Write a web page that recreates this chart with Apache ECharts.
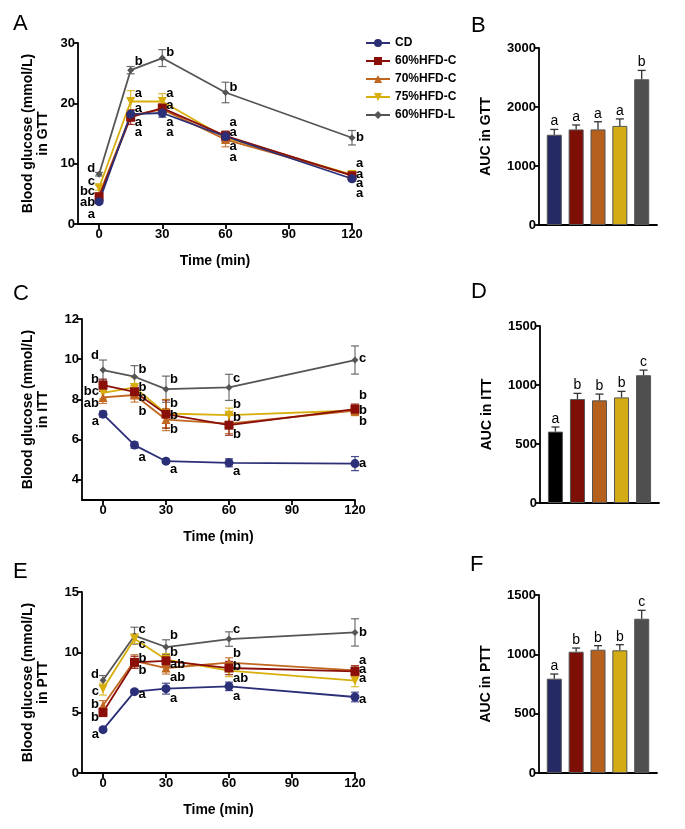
<!DOCTYPE html>
<html><head><meta charset="utf-8">
<script src="https://cdn.jsdelivr.net/npm/echarts@6/dist/echarts.min.js"></script>
<style>html,body{margin:0;padding:0;background:#fff}#c{width:685px;height:829px}</style>
</head><body><div id="c"></div>
<script>
// ---------- DATA ----------
const groups = ['CD', '60%HFD-C', '70%HFD-C', '75%HFD-C', '60%HFD-L'];
const times = [0, 15, 30, 60, 120];
const timeTicks = [0, 30, 60, 90, 120];
const ittTicks = [4, 6, 8, 10, 12];

// GTT (mmol/L), rows follow groups
const gttMeans = [
  [3.7, 18.2, 18.4, 14.5, 7.5],
  [4.5, 17.7, 19.2, 14.6, 8.0],
  [4.8, 18.0, 19.0, 14.0, 8.1],
  [6.0, 20.3, 20.3, 14.3, 8.2],
  [8.25, 25.5, 27.5, 21.8, 14.3]
];
const gttSem = [
  [0.3, 0.6, 0.7, 0.8, 0.4],
  [0.4, 1.2, 0.7, 0.8, 0.5],
  [0.4, 0.9, 0.8, 1.2, 0.5],
  [0.4, 1.8, 1.3, 0.8, 0.5],
  [0.3, 0.6, 1.4, 1.7, 1.2]
];
const gttLetters = [
  [0, 9.23, 'd'], [0, 7.1, 'c'], [0, 5.47, 'bc'], [0, 3.53, 'ab'], [0, 1.6, 'a'],
  [15, 27.0, 'b'], [15, 21.7, 'a'], [15, 19.2, 'a'], [15, 16.9, 'a'], [15, 15.1, 'a'],
  [30, 28.4, 'b'], [30, 21.7, 'a'], [30, 19.6, 'a'], [30, 16.9, 'a'], [30, 15.1, 'a'],
  [60, 22.7, 'b'], [60, 16.9, 'a'], [60, 15.1, 'a'], [60, 12.9, 'a'], [60, 11.1, 'a'],
  [120, 14.3, 'b'], [120, 10.0, 'a'], [120, 8.3, 'a'], [120, 6.8, 'a'], [120, 5.1, 'a']
];
const gttAuc = [1530, 1620, 1620, 1680, 2470];
const gttAucSem = [90, 75, 130, 118, 150];
const gttAucLetters = ['a', 'a', 'a', 'a', 'b'];

// ITT
const ittMeans = [
  [7.27, 5.73, 4.93, 4.85, 4.81],
  [8.71, 8.38, 7.27, 6.72, 7.52],
  [8.1, 8.22, 7.0, 6.8, 7.45],
  [8.33, 8.6, 7.3, 7.22, 7.45],
  [9.46, 9.13, 8.51, 8.6, 9.96]
];
const ittSem = [
  [0.15, 0.15, 0.1, 0.2, 0.35],
  [0.3, 0.3, 0.7, 0.5, 0.25],
  [0.3, 0.35, 0.55, 0.5, 0.25],
  [0.3, 0.5, 0.7, 0.35, 0.25],
  [0.5, 0.55, 0.65, 0.65, 0.7]
];
const ittLetters = [
  [0, 10.2, 'd'], [0, 9.0, 'b'], [0, 8.4, 'bc'], [0, 7.8, 'ab'], [0, 6.9, 'a'],
  [15, 9.5, 'b'], [15, 8.6, 'b'], [15, 8.1, 'b'], [15, 7.4, 'b'], [15, 5.1, 'a'],
  [30, 9.0, 'b'], [30, 7.8, 'b'], [30, 7.2, 'b'], [30, 6.5, 'b'], [30, 4.5, 'a'],
  [60, 9.06, 'c'], [60, 7.77, 'b'], [60, 7.1, 'b'], [60, 6.27, 'b'], [60, 4.43, 'a'],
  [120, 10.04, 'c'], [120, 8.18, 'b'], [120, 7.47, 'b'], [120, 6.89, 'b'], [120, 4.81, 'a']
];
const ittAuc = [605, 881, 870, 895, 1083];
const ittAucSem = [39, 48, 53, 51, 43];
const ittAucLetters = ['a', 'b', 'b', 'b', 'c'];

// PTT
const pttMeans = [
  [3.59, 6.74, 6.99, 7.18, 6.3],
  [5.03, 9.17, 9.3, 8.7, 8.42],
  [5.6, 9.3, 8.7, 9.15, 8.5],
  [6.96, 11.13, 9.4, 8.48, 7.65],
  [7.68, 11.38, 10.44, 11.1, 11.65]
];
const pttSem = [
  [0.15, 0.15, 0.45, 0.35, 0.4],
  [0.35, 0.5, 0.45, 0.55, 0.45],
  [0.4, 0.5, 0.5, 0.4, 0.4],
  [0.5, 0.4, 0.5, 0.5, 0.5],
  [0.4, 0.7, 0.6, 0.6, 1.13]
];
const pttLetters = [
  [0, 8.15, 'd'], [0, 6.77, 'c'], [0, 5.66, 'b'], [0, 4.64, 'b'], [0, 3.2, 'a'],
  [15, 11.93, 'c'], [15, 10.63, 'c'], [15, 9.47, 'b'], [15, 8.5, 'b'], [15, 6.5, 'a'],
  [30, 11.37, 'b'], [30, 10.02, 'b'], [30, 9.03, 'ab'], [30, 7.95, 'ab'], [30, 6.2, 'a'],
  [60, 11.87, 'c'], [60, 9.88, 'b'], [60, 8.8, 'b'], [60, 7.81, 'ab'], [60, 6.35, 'a'],
  [120, 11.64, 'b'], [120, 9.3, 'a'], [120, 8.56, 'a'], [120, 7.8, 'a'], [120, 6.07, 'a']
];
const pttAuc = [795, 1022, 1039, 1034, 1300];
const pttAucSem = [39, 31, 34, 47, 71];
const pttAucLetters = ['a', 'b', 'b', 'b', 'c'];

// ---------- STYLE ----------
const FONT = '"Liberation Sans", Arial, sans-serif';
const lineColors = ['#2b2f77', '#8a0f08', '#c0661f', '#d8ae0c', '#555555'];
const barColors = ['#262a64', '#7e0f06', '#b5601c', '#d3ab12', '#4f4f4f'];
const barColorsITT = ['#000000', '#7e0f06', '#b5601c', '#d3ab12', '#4f4f4f'];
const symbols = ['circle', 'rect', 'triangle', 'triangle', 'diamond'];
const symRot = [0, 0, 0, 180, 0];
const symSizes = [9, 9, 9, 9, 7];

const axText = {fontFamily: FONT, fontWeight: 'bold', fontSize: 13, color: '#000'};
const nameText = {fontFamily: FONT, fontWeight: 'bold', fontSize: 14, color: '#000', lineHeight: 15};
const axLine = {onZero: false, lineStyle: {color: '#000', width: 1.8}};
const tickStyle = {lineStyle: {color: '#000', width: 1.8}, length: 5};
const plain = function (v) { return String(v); };

const grids = [
  {left: 78, top: 43, width: 274, height: 181},
  {left: 539, top: 48, width: 118, height: 177},
  {left: 82, top: 319, width: 273, height: 181},
  {left: 540, top: 326, width: 119, height: 177},
  {left: 82, top: 592, width: 273, height: 181},
  {left: 539, top: 595, width: 118, height: 178}
];

const xAxes = [], yAxes = [], series = [];

function addLinePanel(gi, means, sems, letters, yCfg, title) {
  xAxes.push({
    gridIndex: gi, type: 'value', min: -10, max: 120,
    axisLine: axLine,
    axisTick: Object.assign({customValues: timeTicks}, tickStyle),
    axisLabel: Object.assign({customValues: timeTicks, margin: 4, formatter: plain}, axText),
    splitLine: {show: false},
    name: 'Time (min)', nameLocation: 'middle', nameGap: 30, nameTextStyle: nameText
  });
  yAxes.push(Object.assign({
    gridIndex: gi, type: 'value',
    axisLine: axLine,
    axisTick: Object.assign({}, tickStyle, yCfg.ticks ? {customValues: yCfg.ticks} : {}),
    axisLabel: Object.assign({margin: 3, formatter: plain}, axText, yCfg.ticks ? {customValues: yCfg.ticks} : {}),
    splitLine: {show: false},
    name: title, nameLocation: 'middle', nameRotate: 90, nameGap: yCfg.nameGap, nameTextStyle: nameText
  }, {min: yCfg.min, max: yCfg.max}, yCfg.interval ? {interval: yCfg.interval} : {}));
  const order = [4, 3, 2, 1, 0];
  order.forEach(function (g) {
    const col = lineColors[g];
    series.push({
      type: 'custom', xAxisIndex: gi, yAxisIndex: gi, z: 2, silent: true,
      data: times.map(function (t, k) { return [t, means[g][k], sems[g][k]]; }),
      renderItem: function (params, api) {
        const x = api.value(0), y = api.value(1), e = api.value(2);
        const a = api.coord([x, y + e]), b = api.coord([x, y - e]);
        const hw = 4, st = {stroke: col, lineWidth: 1.2, opacity: 0.85};
        return {type: 'group', children: [
          {type: 'line', shape: {x1: a[0], y1: a[1], x2: b[0], y2: b[1]}, style: st},
          {type: 'line', shape: {x1: a[0] - hw, y1: a[1], x2: a[0] + hw, y2: a[1]}, style: st},
          {type: 'line', shape: {x1: b[0] - hw, y1: b[1], x2: b[0] + hw, y2: b[1]}, style: st}
        ]};
      }
    });
  });
  order.forEach(function (g) {
    series.push({
      name: groups[g], type: 'line', xAxisIndex: gi, yAxisIndex: gi, z: 3,
      data: times.map(function (t, k) { return [t, means[g][k]]; }),
      symbol: symbols[g], symbolSize: symSizes[g], symbolRotate: symRot[g],
      showAllSymbol: true,
      lineStyle: {color: lineColors[g], width: 1.8},
      itemStyle: {color: lineColors[g]},
      animation: false
    });
  });
  series.push({
    type: 'custom', xAxisIndex: gi, yAxisIndex: gi, z: 5, silent: true,
    data: letters.map(function (l) { return [l[0], l[1]]; }),
    renderItem: function (params, api) {
      const x = api.value(0), p = api.coord([x, api.value(1)]);
      const right = x === 0;
      return {type: 'text', x: p[0] + (right ? -4 : 4), y: p[1],
        style: {text: letters[params.dataIndex][2], align: right ? 'right' : 'left', verticalAlign: 'middle',
          font: 'bold 13px ' + FONT, fill: '#000'}};
    }
  });
}

function addBarPanel(gi, means, sems, letters, colors, max, interval, title) {
  xAxes.push({
    gridIndex: gi, type: 'value', min: -0.7, max: 4.7,
    axisLine: axLine, axisTick: {show: false}, axisLabel: {show: false}, splitLine: {show: false}
  });
  yAxes.push({
    gridIndex: gi, type: 'value', min: 0, max: max, interval: interval,
    axisLine: axLine, axisTick: tickStyle,
    axisLabel: Object.assign({margin: 3, formatter: plain}, axText), splitLine: {show: false},
    name: title, nameLocation: 'middle', nameRotate: 90, nameGap: 45, nameTextStyle: nameText
  });
  series.push({
    type: 'bar', xAxisIndex: gi, yAxisIndex: gi, barWidth: 15, z: 2, animation: false,
    data: means.map(function (m, i) {
      return {value: [i, m], itemStyle: {color: colors[i], borderColor: '#555', borderWidth: 1}};
    })
  });
  series.push({
    type: 'custom', xAxisIndex: gi, yAxisIndex: gi, z: 3, silent: true,
    data: means.map(function (m, i) { return [i, m, sems[i]]; }),
    renderItem: function (params, api) {
      const x = api.value(0), y = api.value(1), e = api.value(2);
      const a = api.coord([x, y + e]), b = api.coord([x, y]);
      const st = {stroke: '#333', lineWidth: 1.3};
      return {type: 'group', children: [
        {type: 'line', shape: {x1: a[0], y1: a[1], x2: b[0], y2: b[1]}, style: st},
        {type: 'line', shape: {x1: a[0] - 4, y1: a[1], x2: a[0] + 4, y2: a[1]}, style: st}
      ]};
    }
  });
  series.push({
    type: 'custom', xAxisIndex: gi, yAxisIndex: gi, z: 4, silent: true,
    data: means.map(function (m, i) { return [i, m + sems[i]]; }),
    renderItem: function (params, api) {
      const p = api.coord([api.value(0), api.value(1)]);
      return {type: 'text', x: p[0], y: p[1] - 1,
        style: {text: letters[params.dataIndex], align: 'center', verticalAlign: 'bottom',
          font: '14px ' + FONT, fill: '#000'}};
    }
  });
}

addLinePanel(0, gttMeans, gttSem, gttLetters, {min: 0, max: 30, interval: 10, nameGap: 27}, 'Blood glucose (mmol/L)\nin GTT');
addBarPanel(1, gttAuc, gttAucSem, gttAucLetters, barColors, 3000, 1000, 'AUC in GTT');
addLinePanel(2, ittMeans, ittSem, ittLetters, {min: 3, max: 12, ticks: ittTicks, nameGap: 31}, 'Blood glucose (mmol/L)\nin ITT');
addBarPanel(3, ittAuc, ittAucSem, ittAucLetters, barColorsITT, 1500, 500, 'AUC in ITT');
addLinePanel(4, pttMeans, pttSem, pttLetters, {min: 0, max: 15, interval: 5, nameGap: 31}, 'Blood glucose (mmol/L)\nin PTT');
addBarPanel(5, pttAuc, pttAucSem, pttAucLetters, barColors, 1500, 500, 'AUC in PTT');

const panelLabels = [['A', 21, 25], ['B', 479, 27], ['C', 21, 295], ['D', 479, 293], ['E', 21, 573], ['F', 478, 566]];

const option = {
  animation: false,
  backgroundColor: '#fff',
  grid: grids,
  xAxis: xAxes,
  yAxis: yAxes,
  series: series,
  legend: {
    data: groups.slice(), orient: 'vertical', left: 360, top: 32,
    itemWidth: 24, itemHeight: 10, itemGap: 6,
    textStyle: {fontFamily: FONT, fontWeight: 'bold', fontSize: 12, color: '#000'},
    selectedMode: false
  },
  graphic: panelLabels.map(function (p) {
    return {type: 'text', left: p[1] - 8, top: p[2] - 12,
      style: {text: p[0], font: '22px ' + FONT, fill: '#000'}};
  })
};

const chart = echarts.init(document.getElementById('c'), null, {renderer: 'canvas'});
chart.setOption(option);
</script>
</body></html>
